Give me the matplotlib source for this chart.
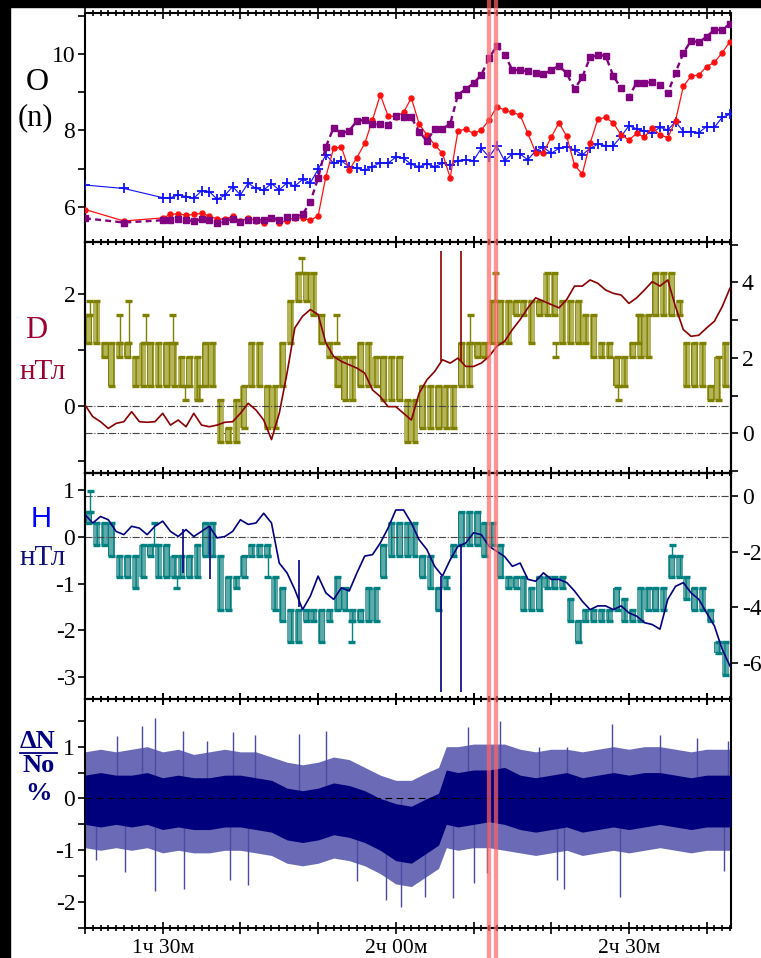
import matplotlib
matplotlib.use("Agg")
import matplotlib.pyplot as plt
import matplotlib.transforms as mtransforms
from matplotlib.lines import Line2D
from matplotlib.patches import Rectangle
from matplotlib.ticker import MultipleLocator

plt.rcParams['font.family'] = ['Liberation Serif', 'DejaVu Serif']
plt.rcParams['axes.unicode_minus'] = False
plt.rcParams['hatch.linewidth'] = 1.0

# ---- время (минуты от 0ч) ----
t_o = [80, 85] + list(range(90, 164))
t_line = list(range(80, 164))
t_blk = list(range(80, 163))
xtick_pos = [80, 90, 100, 110, 120, 130, 140, 150, 160]
xtick_lab = ['', '1ч 30м', '', '', '2ч 00м', '', '', '2ч 30м', '']
marker_t = [132.0, 132.9]

# ---- панель O(n) ----
o_blue = [6.57, 6.48,
          6.24, 6.24, 6.31, 6.27, 6.22, 6.42, 6.40, 6.20, 6.30, 6.53,
          6.31, 6.62, 6.48, 6.44, 6.61, 6.44, 6.63, 6.54, 6.72, 6.63,
          6.98, 7.36, 7.14, 7.20, 7.05, 7.01, 6.96, 7.05, 7.15, 7.14,
          7.30, 7.27, 7.11, 7.05, 7.12, 7.05, 7.14, 7.09, 7.21, 7.23,
          7.21, 7.53, 7.31, 7.59, 7.20, 7.38, 7.38, 7.23, 7.47, 7.56,
          7.40, 7.53, 7.57, 7.49, 7.36, 7.53, 7.64, 7.60, 7.60, 7.84,
          8.12, 8.04, 7.98, 7.94, 8.08, 8.01, 8.23, 7.97, 7.97, 7.94,
          8.10, 8.08, 8.34, 8.42]
o_red = [5.93, 5.63,
         5.71, 5.80, 5.82, 5.78, 5.80, 5.83, 5.76, 5.68, 5.68, 5.75,
         5.63, 5.70, 5.64, 5.57, 5.70, 5.59, 5.64, 5.72, 5.70, 5.65,
         5.76, 6.79, 7.54, 7.56, 6.96, 7.29, 7.66, 8.27, 8.93, 8.38,
         8.36, 8.47, 8.85, 8.17, 7.88, 7.62, 7.40, 6.76, 7.99, 8.03,
         7.92, 8.01, 8.27, 8.62, 8.53, 8.47, 8.40, 7.92, 7.42, 7.42,
         7.82, 8.20, 7.84, 7.09, 6.86, 7.66, 8.29, 8.34, 8.19, 7.88,
         7.75, 7.92, 7.82, 8.07, 7.88, 7.81, 8.25, 9.15, 9.42, 9.45,
         9.67, 9.78, 10.03, 10.32]
o_purple = [5.70, 5.59,
            5.65, 5.66, 5.68, 5.65, 5.63, 5.67, 5.65, 5.57, 5.64, 5.68,
            5.60, 5.65, 5.65, 5.65, 5.72, 5.66, 5.73, 5.74, 5.80, 6.13,
            6.75, 7.57, 8.07, 7.92, 7.99, 8.25, 8.27, 8.16, 8.16, 8.14,
            8.38, 8.34, 8.34, 7.97, 7.72, 8.04, 8.04, 8.17, 8.93, 9.08,
            9.23, 9.45, 9.89, 10.21, 9.98, 9.58, 9.58, 9.54, 9.49, 9.47,
            9.58, 9.69, 9.49, 9.08, 9.39, 9.91, 9.97, 9.95, 9.42, 9.10,
            8.88, 9.25, 9.23, 9.27, 9.19, 8.97, 9.51, 10.02, 10.35, 10.30,
            10.45, 10.63, 10.63, 10.79]

# ---- панель D ----
d_line = [0.01, -0.20, -0.29, -0.41, -0.32, -0.29, -0.11, -0.29, -0.30, -0.29,
          -0.14, -0.35, -0.26, -0.38, -0.14, -0.35, -0.38, -0.35, -0.30, -0.29,
          -0.14, 0.04, -0.08, -0.26, -0.61, -0.14, 0.58, 1.39, 1.60, 1.72,
          1.63, 1.12, 0.88, 0.79, 0.73, 0.67, 0.58, 0.28, 0.16, -0.02,
          -0.02, -0.14, -0.26, 0.22, 0.46, 0.61, 0.82, 0.76, 0.85, 0.70,
          0.70, 0.76, 0.88, 1.06, 1.15, 1.36, 1.54, 1.75, 1.93, 1.87,
          1.81, 1.75, 1.90, 2.14, 2.14, 2.25, 2.19, 2.07, 2.01, 1.98,
          1.83, 1.93, 2.07, 2.22, 2.14, 2.25, 1.77, 1.36, 1.24, 1.26,
          1.39, 1.51, 1.77, 2.10]
d_spike_t = [125.8, 128.35]
d_spike_lo = [0.80, 0.80]
d_spike_hi = [2.76, 2.76]

olive_lo = [2.385, 2.385, 2.01, 1.26, 2.01, 2.01, 1.26, 1.26, 1.26, 1.26,
            1.26, 1.26, 1.26, 1.26, 0.885, 1.26, 1.26, -0.24, -0.24, -0.24,
            0.135, 1.26, 1.26, 0.135, 0.135, 1.26, 2.385, 3.51, 3.51, 3.135,
            2.385, 2.01, 1.26, 0.885, 0.885, 1.26, 1.26, 1.26, 0.885, 0.885,
            0.885, -0.24, -0.24, 0.135, 0.135, 0.135, 0.135, 0.135, 1.26, 1.26,
            2.01, 2.01, 2.385, 2.385, 2.385, 3.135, 3.135, 2.385, 3.135, 3.135,
            3.135, 2.385, 2.385, 2.385, 2.385, 2.01, 2.01, 2.01, 1.26, 1.26,
            2.01, 2.01, 2.01, 3.135, 3.135, 3.135, 3.135, 1.26, 1.26, 1.26,
            0.885, 0.885, 1.26]
olive_hi = [3.135, 3.51, 2.385, 2.385, 2.385, 2.385, 2.01, 2.385, 2.385, 2.385,
            2.385, 2.385, 2.01, 2.01, 2.01, 2.385, 2.385, 0.885, 0.135, 0.885,
            1.26, 2.385, 2.385, 1.26, 1.26, 2.385, 3.51, 4.26, 4.26, 4.26,
            3.135, 2.385, 2.01, 2.01, 2.01, 2.385, 2.385, 2.01, 2.01, 2.01,
            2.01, 0.885, 0.885, 1.26, 1.26, 1.26, 1.26, 1.26, 2.385, 2.385,
            2.385, 2.385, 3.51, 3.51, 3.51, 3.51, 3.51, 3.51, 3.51, 4.26,
            4.26, 3.51, 3.51, 3.51, 3.135, 3.135, 2.385, 2.385, 2.01, 2.01,
            2.385, 3.135, 3.135, 4.26, 4.26, 4.26, 3.51, 2.385, 2.385, 2.385,
            1.26, 2.01, 2.385]
olive_spk_t = [80.6, 84.5, 85.6, 87.8, 91.3, 92.9, 94.7, 107.9, 112.4, 129.6, 132.8, 140.6, 148.6, 151.2]
olive_spk_lo = [3.135, 2.385, 2.385, 2.385, 2.385, 0.885, 0.885, 4.26, 2.385, 2.385, 3.51, 2.01, 0.885, 2.385]
olive_spk_hi = [3.51, 3.135, 3.51, 3.135, 3.135, 1.26, 1.26, 4.635, 3.135, 3.135, 4.26, 2.385, 1.26, 3.135]

# ---- панель H ----
h_line = [0.48, 0.30, 0.44, 0.37, 0.12, 0.05, 0.23, 0.19, 0.05, 0.23,
          0.34, 0.12, 0.01, 0.16, 0.01, 0.12, 0.23, -0.02, 0.01, 0.12,
          0.37, 0.27, 0.30, 0.51, 0.30, -0.56, -0.77, -1.13, -1.56, -1.27,
          -0.84, -1.20, -1.34, -1.09, -1.16, -0.77, -0.41, -0.38, -0.13, 0.19,
          0.58, 0.58, 0.30, -0.06, -0.27, -0.63, -0.84, -0.49, -0.20, -0.13,
          0.09, 0.05, -0.20, -0.31, -0.42, -0.63, -0.56, -0.91, -0.95, -0.77,
          -0.91, -0.91, -0.98, -1.16, -1.38, -1.56, -1.48, -1.48, -1.56, -1.48,
          -1.63, -1.70, -1.84, -1.88, -1.98, -1.34, -1.06, -0.98, -1.20, -1.34,
          -1.63, -1.91, -2.41, -2.77]
h_spike_t = [92.6, 96.1, 107.6, 125.8, 128.35]
h_spike_lo = [-0.77, -0.91, -1.50, -3.34, -3.34]
h_spike_hi = [0.18, 0.23, -0.50, -0.84, -0.20]

teal_lo = [-0.97, -1.75, -1.75, -2.14, -2.92, -2.92, -3.31, -2.92, -2.14, -2.92,
           -2.92, -2.92, -2.92, -2.92, -2.92, -2.14, -2.14, -4.09, -4.09, -3.31,
           -2.92, -2.14, -2.14, -2.14, -4.09, -4.48, -5.26, -5.26, -4.48, -4.48,
           -5.26, -4.48, -4.09, -4.09, -4.48, -4.48, -4.48, -4.48, -2.92, -2.14,
           -2.14, -2.14, -2.14, -2.92, -3.31, -4.09, -3.31, -2.14, -1.75, -1.75,
           -1.75, -2.14, -1.75, -2.92, -3.31, -3.31, -4.09, -4.09, -4.09, -3.31,
           -3.31, -3.31, -4.48, -5.26, -4.48, -4.48, -4.48, -4.48, -4.09, -4.48,
           -4.48, -4.48, -4.09, -4.09, -4.09, -2.92, -2.92, -3.70, -4.09, -4.09,
           -4.48, -5.65, -6.43]
teal_hi = [-0.58, -0.97, -0.97, -0.97, -2.14, -2.14, -2.14, -1.75, -1.75, -1.75,
           -1.75, -2.14, -2.14, -2.14, -1.75, -0.97, -0.97, -2.14, -2.92, -2.92,
           -2.14, -1.75, -1.75, -1.75, -2.92, -3.31, -4.09, -4.09, -4.09, -4.09,
           -4.09, -4.09, -2.92, -3.31, -4.09, -4.09, -3.31, -3.31, -1.75, -0.97,
           -0.97, -0.97, -0.97, -2.14, -2.14, -3.31, -2.92, -1.75, -0.58, -0.58,
           -0.58, -0.97, -0.97, -1.75, -2.92, -2.92, -2.92, -3.31, -2.92, -2.92,
           -2.92, -2.92, -3.70, -4.48, -4.09, -4.09, -4.09, -4.09, -3.31, -3.70,
           -4.09, -3.31, -3.31, -3.31, -3.31, -2.14, -2.14, -2.92, -3.31, -3.31,
           -4.09, -5.26, -5.26]
teal_spk_t = [80.7, 88.9, 91.8, 103.5, 114.3, 155.6]
teal_spk_lo = [-0.58, -1.75, -3.31, -2.92, -5.26, -2.14]
teal_spk_hi = [0.20, -0.97, -2.92, -2.14, -4.48, -1.75]

# ---- панель dN/No ----
t4 = [80, 82, 84, 86, 88, 90, 92, 94, 96, 98, 100, 102, 104, 106, 108, 110, 112, 114, 116, 118,
      120, 122, 124, 125.5, 126.5, 128, 130, 132, 134, 136, 138, 140, 142, 144, 146, 148, 150,
      152, 154, 156, 158, 160, 162, 163.1]
n_in_hi = [0.45, 0.50, 0.45, 0.45, 0.50, 0.40, 0.45, 0.40, 0.40, 0.45, 0.45, 0.40, 0.35, 0.20,
           0.15, 0.20, 0.30, 0.25, 0.15, 0.00, -0.10, -0.15, 0.00, 0.10, 0.55, 0.50, 0.55, 0.55,
           0.60, 0.45, 0.40, 0.45, 0.50, 0.40, 0.45, 0.50, 0.45, 0.50, 0.50, 0.45, 0.40, 0.45,
           0.45, 0.45]
n_in_lo = [-0.50, -0.55, -0.50, -0.55, -0.50, -0.60, -0.55, -0.60, -0.60, -0.55, -0.55, -0.60,
           -0.65, -0.80, -0.85, -0.80, -0.70, -0.75, -0.85, -1.00, -1.20, -1.25, -1.05, -0.90,
           -0.50, -0.55, -0.50, -0.45, -0.50, -0.60, -0.65, -0.60, -0.55, -0.65, -0.60, -0.55,
           -0.60, -0.55, -0.50, -0.55, -0.60, -0.55, -0.55, -0.55]
n_out_hi = [0.90, 0.95, 0.90, 0.95, 1.00, 0.90, 0.95, 0.85, 0.90, 0.95, 0.90, 0.90, 0.80, 0.70,
            0.65, 0.70, 0.80, 0.75, 0.60, 0.45, 0.35, 0.35, 0.50, 0.60, 1.00, 1.00, 1.05, 1.05,
            1.05, 0.95, 0.90, 0.95, 0.95, 0.90, 0.95, 1.00, 0.95, 1.00, 1.00, 0.95, 0.90, 0.95,
            0.95, 0.95]
n_out_lo = [-0.95, -1.00, -0.95, -1.00, -0.95, -1.05, -1.00, -1.05, -1.05, -1.00, -1.00, -1.05,
            -1.10, -1.25, -1.30, -1.25, -1.15, -1.20, -1.30, -1.45, -1.65, -1.70, -1.50, -1.35,
            -0.95, -1.00, -0.95, -0.95, -1.00, -1.05, -1.10, -1.05, -1.00, -1.10, -1.05, -1.00,
            -1.05, -1.00, -0.95, -1.00, -1.05, -1.00, -1.00, -1.00]
spk_up_t = [84.1, 87.3, 89.0, 92.6, 95.7, 99.1, 101.9, 107.5, 111.0, 129.3, 133.4, 138.4, 142.0,
            147.8, 154.0, 158.7, 162.8]
spk_up_v = [1.20, 1.39, 1.56, 1.30, 1.10, 1.28, 1.22, 1.25, 1.30, 1.37, 1.50, 1.00, 1.00, 1.44,
            1.22, 1.16, 1.10]
spk_dn_t = [81.4, 85.1, 89.0, 92.7, 98.7, 101.0, 115.0, 118.8, 120.7, 123.7, 127.4, 130.0, 131.7,
            140.7, 141.6, 148.9, 162.2]
spk_dn_v = [-1.18, -1.41, -1.79, -1.74, -1.58, -1.67, -1.60, -1.95, -2.10, -1.90, -1.92, -1.63,
            -1.44, -1.57, -1.74, -1.90, -1.40]

W, H = 761, 958
XMIN, XMAX = 80, 163.1


def px_box(top, bottom, left=85, right=730.7):
    return [left / W, 1 - bottom / H, (right - left) / W, (bottom - top) / H]


def style_x(ax, labels=False):
    ax.set_xlim(XMIN, XMAX)
    ax.set_xticks(xtick_pos)
    ax.set_xticklabels(xtick_lab if labels else [''] * len(xtick_pos), fontsize=15.5)
    ax.xaxis.set_minor_locator(MultipleLocator(1))
    ax.tick_params(axis='x', which='both', direction='inout', top=True, bottom=True, width=1.2, pad=4)
    ax.tick_params(axis='x', which='major', length=8.5)
    ax.tick_params(axis='x', which='minor', length=5)
    for s in ax.spines.values():
        s.set_linewidth(1.5)


def style_y(ax, side='left'):
    ax.tick_params(axis='y', which='both', direction='out', width=1.2, labelsize=17, pad=2)
    ax.tick_params(axis='y', which='major', length=5)
    ax.tick_params(axis='y', which='minor', length=5)
    if side == 'right':
        ax.yaxis.tick_right()
        ax.tick_params(axis='y', pad=3)


def draw_blocks(ax, t, lo, hi, face, dark, spk_t, spk_lo, spk_hi):
    heights = [h - l for l, h in zip(lo, hi)]
    ax.bar(t, heights, bottom=lo, width=0.9, align='edge', color=face,
           edgecolor=dark, hatch='|||', linewidth=0, zorder=2)
    ax.hlines(lo, [x + 0.02 for x in t], [x + 0.92 for x in t], color=dark, lw=2.4, zorder=3)
    ax.hlines(hi, [x + 0.02 for x in t], [x + 0.92 for x in t], color=dark, lw=2.4, zorder=3)
    ax.vlines(spk_t, spk_lo, spk_hi, color=dark, lw=1.0, zorder=3)
    ax.hlines(spk_lo, [x - 0.45 for x in spk_t], [x + 0.45 for x in spk_t], color=dark, lw=2.4, zorder=3)
    ax.hlines(spk_hi, [x - 0.45 for x in spk_t], [x + 0.45 for x in spk_t], color=dark, lw=2.4, zorder=3)


fig = plt.figure(figsize=(W / 100, H / 100), dpi=100)
fig.patch.set_facecolor('white')

# --- O(n) ---
ax1 = fig.add_axes(px_box(13, 242))
ax1.plot(t_o, o_blue, color='#1010ff', lw=0.8, marker='+', ms=7, mew=1.3, zorder=3)
ax1.plot(t_o, o_red, color='#ff1010', lw=0.9, marker='o', ms=3.6, zorder=4)
ax1.plot(t_o, o_purple, color='#800080', lw=1.7, ls=(0, (2.5, 1.8)), marker='s', ms=3.8, zorder=5)
ax1.set_ylim(5.08, 11.07)
ax1.set_yticks([6, 8, 10])
ax1.yaxis.set_minor_locator(MultipleLocator(1))
style_x(ax1)
style_y(ax1)

# --- D ---
ax2 = fig.add_axes(px_box(242, 472.5))
ax2r = ax2.twinx()
draw_blocks(ax2r, t_blk, olive_lo, olive_hi, '#b4b45a', '#808000',
            olive_spk_t, olive_spk_lo, olive_spk_hi)
ax2r.set_ylim(-1.04, 5.07)
ax2r.set_yticks([0, 2, 4])
ax2r.yaxis.set_minor_locator(MultipleLocator(1))
ax2r.axhline(0, color='#444444', lw=0.8, ls='-.', zorder=1)
ax2.plot(t_line, d_line, color='#8b0000', lw=1.2, zorder=4)
ax2.vlines(d_spike_t, d_spike_lo, d_spike_hi, color='#8b0000', lw=1.2, zorder=4)
ax2.axhline(0, color='#444444', lw=0.8, ls='-.', zorder=1)
ax2.set_ylim(-1.2, 2.93)
ax2.set_yticks([0, 2])
ax2.yaxis.set_minor_locator(MultipleLocator(1))
ax2.set_zorder(ax2r.get_zorder() + 1)
ax2.patch.set_visible(False)
style_x(ax2)
style_x(ax2r)
style_y(ax2)
style_y(ax2r, 'right')

# --- H ---
ax3 = fig.add_axes(px_box(472.5, 699))
ax3r = ax3.twinx()
draw_blocks(ax3r, t_blk, teal_lo, teal_hi, '#5fa9a9', '#008080',
            teal_spk_t, teal_spk_lo, teal_spk_hi)
ax3r.set_ylim(-7.3, 0.85)
ax3r.set_yticks([-6, -4, -2, 0])
ax3r.axhline(0, color='#444444', lw=0.8, ls='-.', zorder=1)
ax3.plot(t_line, h_line, color='#000080', lw=1.2, zorder=4)
ax3.vlines(h_spike_t, h_spike_lo, h_spike_hi, color='#000080', lw=1.2, zorder=4)
ax3.axhline(0, color='#444444', lw=0.8, ls='-.', zorder=1)
ax3.set_ylim(-3.48, 1.385)
ax3.set_yticks([-3, -2, -1, 0, 1])
ax3.set_zorder(ax3r.get_zorder() + 1)
ax3.patch.set_visible(False)
style_x(ax3)
style_x(ax3r)
style_y(ax3)
style_y(ax3r, 'right')

# --- dN/No ---
ax4 = fig.add_axes(px_box(699, 928))
ax4.fill_between(t4, n_out_lo, n_out_hi, color='#6a6ab6', lw=0, zorder=2)
ax4.fill_between(t4, n_in_lo, n_in_hi, color='#00007c', lw=0, zorder=3)
ax4.vlines(spk_up_t, 0, spk_up_v, color='#4a4aa4', lw=1.0, zorder=2)
ax4.vlines(spk_dn_t, 0, spk_dn_v, color='#4a4aa4', lw=1.0, zorder=2)
ax4.axhline(0, color='black', lw=0.8, ls=(0, (6, 4)), zorder=4)
ax4.set_ylim(-2.5, 1.92)
ax4.set_yticks([-2, -1, 0, 1])
ax4.yaxis.set_minor_locator(MultipleLocator(0.5))
style_x(ax4, labels=True)
style_y(ax4)

# подписи панелей
def ftxt(x, y, s, **kw):
    fig.text(x / W, 1 - y / H, s, ha='center', va='center', **kw)

ftxt(37, 83, 'O', fontsize=23, color='black')
ftxt(35, 118, '(n)', fontsize=22, color='black')
ftxt(36, 331, 'D', fontsize=22, color='#9b0030')
ftxt(43, 372, 'нТл', fontsize=21, color='#9b0030')
ftxt(41, 519, 'H', fontsize=21, color='#0000ff', family=['Liberation Sans', 'DejaVu Sans'])
ftxt(43, 558, 'нТл', fontsize=21, color='#10107a')
ftxt(38, 742, 'ΔN', fontsize=19, color='#000080', weight='bold')
fig.add_artist(Line2D([20 / W, 57 / W], [1 - 753 / H, 1 - 753 / H], color='#000080', lw=1.3))
ftxt(39, 765, 'No', fontsize=19, color='#000080', weight='bold')
ftxt(38, 793, '%', fontsize=19, color='#000080', weight='bold')

# чёрные поля
fig.add_artist(Rectangle((0, 1 - 7 / H), 1, 7 / H, transform=fig.transFigure, color='black', zorder=0))
fig.add_artist(Rectangle((0, 0), 10 / W, 1, transform=fig.transFigure, color='black', zorder=0))

# красные маркеры времени через весь рисунок
trans = mtransforms.blended_transform_factory(ax4.transData, fig.transFigure)
for m in marker_t:
    fig.add_artist(Line2D([m, m], [0, 1], transform=trans, color='#ff6464', lw=3.1, alpha=0.7, zorder=20))

fig.savefig("out.png", dpi=100)
